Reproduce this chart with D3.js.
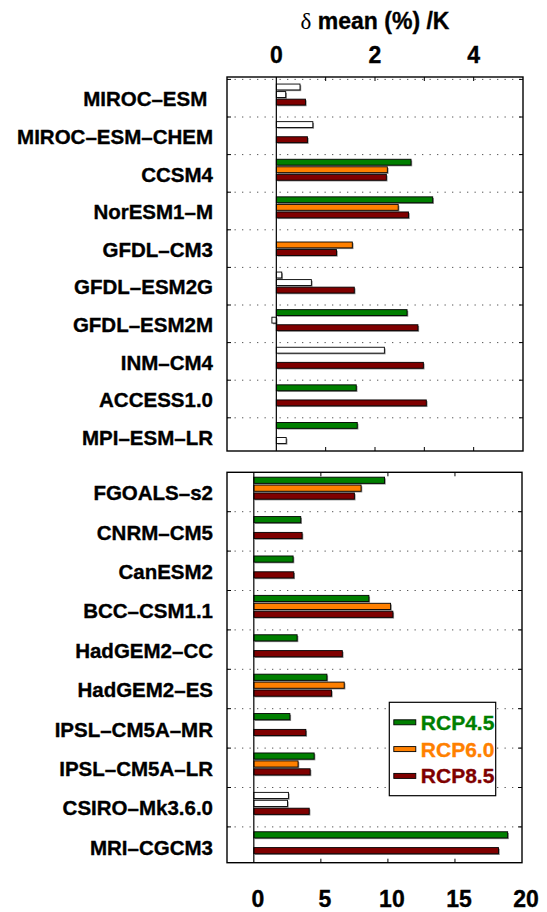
<!DOCTYPE html>
<html>
<head>
<meta charset="utf-8">
<script src="https://cdn.jsdelivr.net/npm/d3@7"></script>
<style>
  body { margin: 0; background: #fff; }
  text { font-family: "Liberation Sans", Arial, sans-serif; font-weight: bold; fill: #000; }
</style>
</head>
<body>
<script>
const scenarios = ['RCP4.5', 'RCP6.0', 'RCP8.5'];
const scenarioColors = ['#007f00', '#ff8000', '#7f0000'];

// upper panel: delta mean (%) per K
const topModels = ['MIROC–ESM\u00a0', 'MIROC–ESM–CHEM', 'CCSM4', 'NorESM1–M', 'GFDL–CM3',
  'GFDL–ESM2G', 'GFDL–ESM2M', 'INM–CM4', 'ACCESS1.0', 'MPI–ESM–LR'];
const topRcp45 = [0.48, 0.74, 2.73, 3.17, null, 0.11, 2.65, 2.19, 1.62, 1.64];
const topRcp60 = [0.19, null, 2.25, 2.47, 1.54, 0.71, -0.09, null, null, null];
const topRcp85 = [0.59, 0.63, 2.23, 2.68, 1.22, 1.58, 2.87, 2.98, 3.04, 0.20];
// 1 = significant (coloured), 0 = not significant (white)
const topSig45 = [0, 0, 1, 1, 1, 0, 1, 0, 1, 1];
const topSig60 = [0, 1, 1, 1, 1, 0, 0, 1, 1, 1];
const topSig85 = [1, 1, 1, 1, 1, 1, 1, 1, 1, 0];
const topTicks = [1, 2, 3, 4];
const topTickLabels = [0, 2, 4];

// lower panel
const bottomModels = ['FGOALS–s2', 'CNRM–CM5', 'CanESM2', 'BCC–CSM1.1', 'HadGEM2–CC',
  'HadGEM2–ES', 'IPSL–CM5A–MR', 'IPSL–CM5A–LR', 'CSIRO–Mk3.6.0', 'MRI–CGCM3'];
const bottomRcp45 = [9.75, 3.5, 2.93, 8.58, 3.23, 5.45, 2.69, 4.5, 2.58, 18.93];
const bottomRcp60 = [8.0, null, null, 10.2, null, 6.74, null, 3.3, 2.51, null];
const bottomRcp85 = [7.5, 3.6, 2.98, 10.37, 6.6, 5.79, 3.88, 4.2, 4.13, 18.25];
const bottomSig45 = [1, 1, 1, 1, 1, 1, 1, 1, 0, 1];
const bottomSig60 = [1, 1, 1, 1, 1, 1, 1, 1, 0, 1];
const bottomSig85 = [1, 1, 1, 1, 1, 1, 1, 1, 1, 1];
const bottomTicks = [5, 10, 15];
const bottomTickLabels = [0, 5, 10, 15, 20];

const width = 547;
const height = 912;
const frameLeft = 227;
const labelX = 213;

const svg = d3.select('body')
  .append('svg')
  .attr('width', width)
  .attr('height', height);

function toRows(models, series, sigs) {
  const rows = [];
  models.forEach((m, i) => {
    series.forEach((s, k) => {
      if (s[i] === null) return;
      rows.push({ model: m, scenario: scenarios[k], value: s[i], sig: sigs[k][i], k: k });
    });
  });
  return rows;
}

function panel(opts) {
  const x = d3.scaleLinear(opts.xDomain, [frameLeft, opts.right]);
  const y = d3.scaleBand(opts.models, [opts.bandTop, opts.bandTop + opts.groupH * opts.models.length]);
  const inner = d3.scaleBand(scenarios, [0, y.bandwidth()])
    .paddingInner(0.22)
    .paddingOuter(1.1)
    .align(0.28);

  const g = svg.append('g');
  const clipId = 'clip' + opts.id;
  g.append('clipPath').attr('id', clipId)
    .append('rect')
    .attr('x', frameLeft).attr('y', opts.top)
    .attr('width', opts.right - frameLeft).attr('height', opts.bottom - opts.top);

  // dotted grid at group boundaries
  const bounds = opts.models.map(m => y(m)).filter(v => v > opts.top + 0.5);
  g.selectAll('.grid')
    .data(bounds)
    .enter()
    .append('line')
    .attr('x1', frameLeft).attr('x2', opts.right)
    .attr('y1', d => d).attr('y2', d => d)
    .attr('stroke', '#555')
    .attr('stroke-width', 1)
    .attr('stroke-dasharray', '1.3,6.2');
  [[frameLeft, 4], [opts.right, -4]].forEach(([x0, len]) => {
    g.selectAll(null)
      .data(bounds)
      .enter()
      .append('line')
      .attr('x1', x0).attr('x2', x0 + len)
      .attr('y1', d => d).attr('y2', d => d)
      .attr('stroke', '#000');
  });

  // x ticks on top and bottom edges
  opts.ticks.forEach(t => {
    g.append('line').attr('x1', x(t)).attr('x2', x(t))
      .attr('y1', opts.top).attr('y2', opts.top + 4).attr('stroke', '#000');
    g.append('line').attr('x1', x(t)).attr('x2', x(t))
      .attr('y1', opts.bottom).attr('y2', opts.bottom - 4).attr('stroke', '#000');
  });

  const rows = toRows(opts.models, opts.series, opts.sigs);
  const bars = g.append('g').attr('clip-path', `url(#${clipId})`);
  const barX = d => Math.min(x(0), x(d.value));
  const barW = d => Math.abs(x(d.value) - x(0));
  const barY = d => y(d.model) + inner(d.scenario);

  // grey drop shadow
  bars.selectAll('.shadow')
    .data(rows)
    .enter()
    .append('rect')
    .attr('x', d => barX(d) + 1.2)
    .attr('y', d => barY(d) + 1.2)
    .attr('width', barW)
    .attr('height', inner.bandwidth())
    .attr('fill', '#8a8a8a');

  bars.selectAll('.bar')
    .data(rows)
    .enter()
    .append('rect')
    .attr('class', 'bar')
    .attr('x', barX)
    .attr('y', barY)
    .attr('width', barW)
    .attr('height', inner.bandwidth())
    .attr('fill', d => d.sig ? scenarioColors[d.k] : '#fff')
    .attr('stroke', '#000')
    .attr('stroke-width', 0.9);

  // zero line
  g.append('line')
    .attr('x1', x(0)).attr('x2', x(0))
    .attr('y1', opts.top).attr('y2', opts.bottom)
    .attr('stroke', '#000').attr('stroke-width', 1.2);

  // frame
  g.append('rect')
    .attr('x', frameLeft).attr('y', opts.top)
    .attr('width', opts.right - frameLeft).attr('height', opts.bottom - opts.top)
    .attr('fill', 'none').attr('stroke', '#000').attr('stroke-width', 1.4);

  // model names
  g.selectAll('.name')
    .data(opts.models)
    .enter()
    .append('text')
    .attr('x', labelX)
    .attr('y', d => y(d) + y.bandwidth() / 2 + 1)
    .attr('dy', '0.35em')
    .attr('text-anchor', 'end')
    .attr('font-size', 20.5)
    .attr('stroke', '#000')
    .attr('stroke-width', 0.35)
    .text(d => d);

  // tick labels
  g.selectAll('.tl')
    .data(opts.tickLabels)
    .enter()
    .append('text')
    .attr('x', d => x(d) + opts.labelShift)
    .attr('y', opts.labelY)
    .attr('text-anchor', 'middle')
    .attr('font-size', 23)
    .attr('stroke', '#000')
    .attr('stroke-width', 0.35)
    .text(d => d);

  return { x, y };
}

panel({
  id: 'top',
  models: topModels,
  series: [topRcp45, topRcp60, topRcp85],
  sigs: [topSig45, topSig60, topSig85],
  xDomain: [-1, 5],
  right: 523,
  top: 77,
  bottom: 451,
  bandTop: 79.4,
  groupH: 37.6,
  ticks: topTicks,
  tickLabels: topTickLabels,
  labelY: 63,
  labelShift: 0
});

panel({
  id: 'bottom',
  models: bottomModels,
  series: [bottomRcp45, bottomRcp60, bottomRcp85],
  sigs: [bottomSig45, bottomSig60, bottomSig85],
  xDomain: [-2, 20],
  right: 522,
  top: 472.3,
  bottom: 862.7,
  bandTop: 472.3,
  groupH: 39.4,
  ticks: bottomTicks,
  tickLabels: bottomTickLabels,
  labelY: 907,
  labelShift: 4
});

// title
const title = svg.append('text')
  .attr('x', 375)
  .attr('y', 29)
  .attr('text-anchor', 'middle')
  .attr('font-size', 23)
  .attr('stroke', '#000')
  .attr('stroke-width', 0.35);
title.append('tspan')
  .attr('font-family', '"Liberation Serif", "DejaVu Serif", serif')
  .attr('font-weight', 'normal')
  .attr('stroke-width', 0)
  .text('δ');
title.append('tspan').text(' mean (%) /K');

// legend
const legend = svg.append('g').attr('transform', 'translate(389.3, 702.3)');
legend.append('rect')
  .attr('width', 106.4)
  .attr('height', 93.4)
  .attr('fill', '#fff')
  .attr('stroke', '#000')
  .attr('stroke-width', 1.2);
const items = legend.selectAll('.item')
  .data(scenarios)
  .enter()
  .append('g')
  .attr('transform', (d, i) => `translate(0, ${20 + i * 26.8})`);
items.append('rect')
  .attr('x', 4.5).attr('y', -2.5)
  .attr('width', 22).attr('height', 5)
  .attr('fill', (d, i) => scenarioColors[i])
  .attr('stroke', '#000')
  .attr('stroke-width', 0.9);
items.append('text')
  .attr('x', 31.5)
  .attr('y', 0)
  .attr('dy', '0.36em')
  .attr('font-size', 21)
  .style('fill', (d, i) => scenarioColors[i])
  .style('stroke', (d, i) => scenarioColors[i])
  .attr('stroke-width', 0.35)
  .text(d => d);
</script>
</body>
</html>
